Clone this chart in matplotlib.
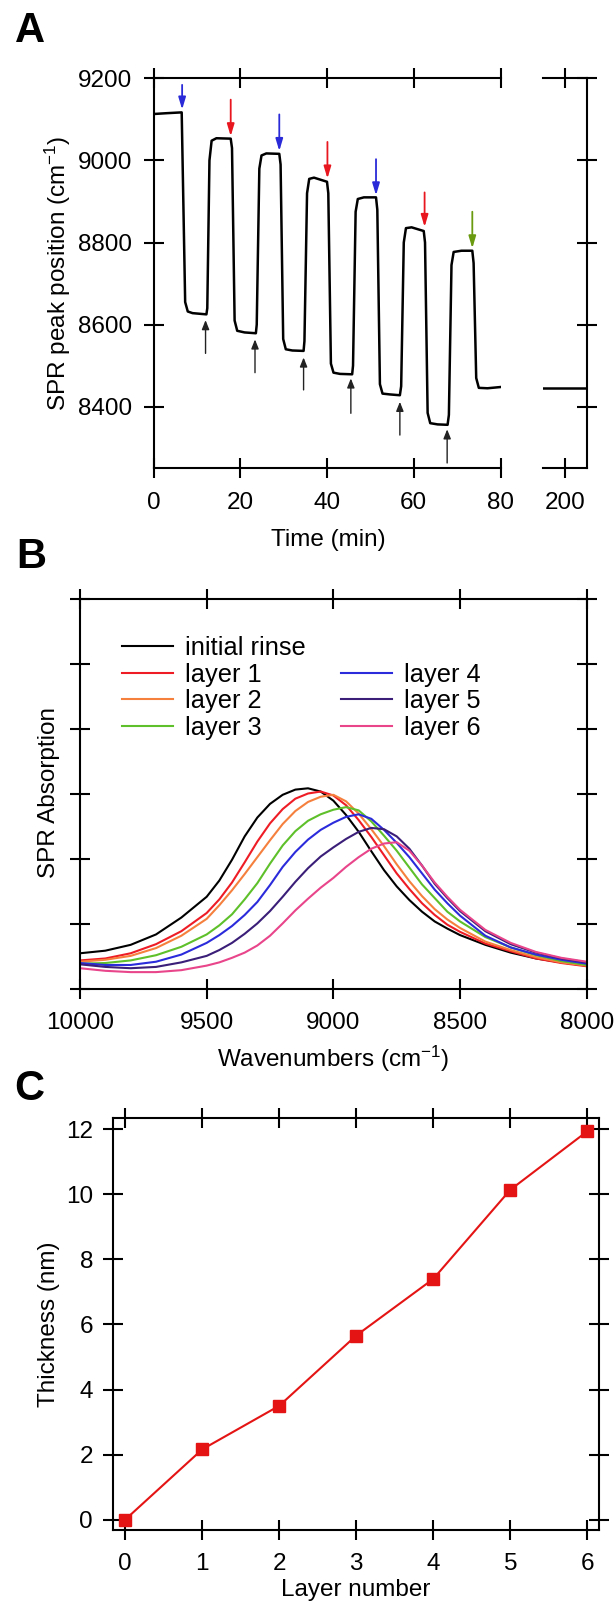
import matplotlib
matplotlib.use('Agg')
import matplotlib.pyplot as plt
from matplotlib.lines import Line2D

plt.rcParams['font.family'] = ['Liberation Sans', 'DejaVu Sans']
plt.rcParams['mathtext.fontset'] = 'custom'
plt.rcParams['mathtext.rm'] = 'Liberation Sans'
plt.rcParams['mathtext.it'] = 'Liberation Sans:italic'
plt.rcParams['mathtext.bf'] = 'Liberation Sans:bold'

# ---------------- data: panel A ----------------
time_min = [0, 3, 6.5, 7.3, 7.9, 9, 12.2,
            12.4, 12.9, 13.4, 14.5, 17.8,
            18.1, 18.7, 19.3, 21, 23.6,
            23.8, 24.4, 24.9, 26, 29.0,
            29.3, 29.9, 30.5, 32, 34.6,
            34.8, 35.4, 35.9, 37, 40.0,
            40.3, 40.9, 41.5, 43, 45.8,
            46.0, 46.6, 47.1, 48.5, 51.3,
            51.6, 52.2, 52.8, 54.5, 56.8,
            57.1, 57.7, 58.2, 59.5, 62.3,
            62.6, 63.2, 63.8, 65.5, 67.8,
            68.1, 68.7, 69.2, 71, 73.5,
            73.8, 74.4, 75.0, 77, 80]
peak_pos = [9113, 9115, 9117, 8655, 8632, 8628, 8625,
            8640, 9000, 9048, 9054, 9053,
            9030, 8610, 8585, 8581, 8579,
            8600, 8980, 9012, 9017, 9016,
            8990, 8565, 8540, 8537, 8536,
            8560, 8920, 8955, 8958, 8948,
            8920, 8505, 8483, 8480, 8479,
            8500, 8875, 8906, 8910, 8910,
            8880, 8455, 8432, 8430, 8428,
            8450, 8800, 8835, 8837, 8828,
            8800, 8385, 8360, 8357, 8356,
            8380, 8745, 8777, 8780, 8780,
            8750, 8470, 8446, 8445, 8448]
late_time = [195, 205]
late_pos = [8445, 8445]

down_t = [6.6, 17.8, 29.0, 40.1, 51.3, 62.5, 73.5]
down_tail = [9184, 9148, 9112, 9045, 9003, 8922, 8875]
down_tip = [9124, 9059, 9023, 8956, 8915, 8838, 8786]
down_colors = ['#2a2ad8', '#e8161e', '#2a2ad8', '#e8161e', '#2a2ad8', '#e8161e', '#6a9a10']

up_t = [12.0, 23.4, 34.6, 45.5, 56.8, 67.7]
up_tail = [8530, 8483, 8441, 8384, 8331, 8263]
up_tip = [8611, 8564, 8520, 8469, 8412, 8345]

# ---------------- data: panel B ----------------
wavenumber = [10000, 9900, 9800, 9700, 9600, 9500, 9450, 9400, 9350, 9300, 9250,
              9200, 9150, 9100, 9050, 9000, 8950, 8900, 8850, 8800, 8750, 8700,
              8650, 8600, 8550, 8500, 8400, 8300, 8200, 8100, 8000]
abs_initial = [0.55, 0.59, 0.68, 0.84, 1.10, 1.42, 1.67, 1.99, 2.35, 2.64, 2.85,
               2.99, 3.07, 3.09, 3.04, 2.90, 2.68, 2.42, 2.12, 1.83, 1.58, 1.37,
               1.19, 1.04, 0.93, 0.83, 0.68, 0.56, 0.47, 0.41, 0.36]
abs_layer1 = [0.44, 0.47, 0.55, 0.69, 0.89, 1.17, 1.38, 1.64, 1.95, 2.27, 2.55,
              2.77, 2.93, 3.01, 3.04, 2.98, 2.83, 2.60, 2.34, 2.06, 1.78, 1.54,
              1.32, 1.14, 0.99, 0.88, 0.70, 0.58, 0.47, 0.40, 0.35]
abs_layer2 = [0.42, 0.45, 0.51, 0.63, 0.82, 1.08, 1.29, 1.52, 1.77, 2.03, 2.29,
              2.54, 2.74, 2.88, 2.96, 2.99, 2.89, 2.70, 2.46, 2.20, 1.92, 1.66,
              1.43, 1.23, 1.07, 0.94, 0.73, 0.60, 0.49, 0.41, 0.36]
abs_layer3 = [0.39, 0.40, 0.44, 0.52, 0.65, 0.84, 0.98, 1.15, 1.38, 1.63, 1.93,
              2.21, 2.43, 2.59, 2.69, 2.76, 2.80, 2.75, 2.58, 2.36, 2.13, 1.87,
              1.61, 1.40, 1.19, 1.04, 0.80, 0.64, 0.52, 0.43, 0.37]
abs_layer4 = [0.40, 0.37, 0.37, 0.42, 0.53, 0.71, 0.83, 0.97, 1.14, 1.34, 1.60,
              1.88, 2.11, 2.30, 2.45, 2.56, 2.65, 2.69, 2.62, 2.45, 2.25, 2.03,
              1.78, 1.53, 1.32, 1.13, 0.82, 0.64, 0.53, 0.45, 0.39]
abs_layer5 = [0.38, 0.34, 0.32, 0.34, 0.41, 0.51, 0.60, 0.71, 0.85, 1.01, 1.20,
              1.42, 1.65, 1.86, 2.04, 2.18, 2.31, 2.42, 2.48, 2.46, 2.35, 2.16,
              1.90, 1.62, 1.40, 1.20, 0.89, 0.69, 0.56, 0.47, 0.41]
abs_layer6 = [0.32, 0.28, 0.26, 0.26, 0.29, 0.36, 0.41, 0.48, 0.56, 0.67, 0.82,
              1.01, 1.21, 1.39, 1.56, 1.71, 1.88, 2.03, 2.16, 2.24, 2.26, 2.13,
              1.90, 1.64, 1.42, 1.22, 0.91, 0.71, 0.57, 0.48, 0.42]
spectra_labels = ['initial rinse', 'layer 1', 'layer 2', 'layer 3', 'layer 4', 'layer 5', 'layer 6']
spectra_colors = ['#000000', '#ee1c25', '#f5803e', '#5ec02a', '#2b2bdc', '#3a1e78', '#e8458b']

# ---------------- data: panel C ----------------
layer_number = [0, 1, 2, 3, 4, 5, 6]
thickness_nm = [0.0, 2.16, 3.50, 5.66, 7.40, 10.14, 11.94]

# ---------------- figure ----------------
W, H = 616, 1604
DPI = 100
fig = plt.figure(figsize=(W / DPI, H / DPI), dpi=DPI)
FS = 17.5
TL = 14.4
LW = 1.5


def rect(x0, y0, x1, y1):
    return [x0 / W, 1 - y1 / H, (x1 - x0) / W, (y1 - y0) / H]


def ftext(x, y, s, **kw):
    fig.text(x / W, 1 - y / H, s, **kw)


def base_style(ax):
    for sp in ax.spines.values():
        sp.set_linewidth(LW)
    ax.tick_params(which='both', direction='inout', length=TL, width=LW,
                   labelsize=FS, colors='k')


# ---- Panel A ----
axA1 = fig.add_axes(rect(153.5, 78.3, 500.5, 467.5))
axA1.plot(time_min, peak_pos, color='k', lw=1.8, solid_joinstyle='round')
axA1.set_xlim(0, 80)
axA1.set_ylim(8252, 9200)
axA1.set_xticks([0, 20, 40, 60, 80])
axA1.set_yticks([8400, 8600, 8800, 9000, 9200])
base_style(axA1)
axA1.spines['right'].set_visible(False)
axA1.tick_params(axis='x', top=True, bottom=True, labeltop=False, pad=10.5)
axA1.tick_params(axis='y', left=True, right=False, pad=8)

for t, a, b, c in zip(down_t, down_tail, down_tip, down_colors):
    axA1.annotate('', xy=(t, b), xytext=(t, a),
                  arrowprops=dict(arrowstyle='-|>,head_length=0.6,head_width=0.18',
                                  color=c, lw=1.3, mutation_scale=12,
                                  shrinkA=0, shrinkB=0))
for t, a, b in zip(up_t, up_tail, up_tip):
    axA1.annotate('', xy=(t, b), xytext=(t, a),
                  arrowprops=dict(arrowstyle='-|>,head_length=0.5,head_width=0.2',
                                  color='#222222', lw=1.0, mutation_scale=11,
                                  shrinkA=0, shrinkB=0))

axA2 = fig.add_axes(rect(543, 78.3, 586.7, 467.5))
axA2.plot(late_time, late_pos, color='k', lw=1.8)
axA2.set_xlim(195, 205)
axA2.set_ylim(8252, 9200)
axA2.set_xticks([200])
axA2.set_yticks([8400, 8600, 8800, 9000, 9200])
base_style(axA2)
axA2.spines['left'].set_visible(False)
axA2.tick_params(axis='x', top=True, bottom=True, labeltop=False, pad=10.5)
axA2.tick_params(axis='y', left=False, right=True, labelleft=False, labelright=False)

ftext(30, 31, 'A', fontsize=30, fontweight='bold', ha='center', va='center')
ftext(58, 273, r'SPR peak position (cm$^{-1}$)', fontsize=FS, rotation=90,
      ha='center', va='center')
ftext(328, 546, 'Time (min)', fontsize=FS, ha='center', va='baseline')

# ---- Panel B ----
axB = fig.add_axes(rect(80, 599.3, 586.7, 989))
handles = []
for y, lab, col in zip([abs_initial, abs_layer1, abs_layer2, abs_layer3,
                        abs_layer4, abs_layer5, abs_layer6],
                       spectra_labels, spectra_colors):
    ln, = axB.plot(wavenumber, y, color=col, lw=1.5, label=lab,
                   solid_joinstyle='round')
    handles.append(ln)
axB.set_xlim(10000, 8000)
axB.set_ylim(0, 6)
axB.set_xticks([10000, 9500, 9000, 8500, 8000])
axB.set_yticks([0, 1, 2, 3, 4, 5, 6])
base_style(axB)
axB.tick_params(axis='x', top=True, bottom=True, labeltop=False, pad=9.5)
axB.tick_params(axis='y', left=True, right=True, labelleft=False, labelright=False)

blank = Line2D([], [], color='none')
leg_handles = handles[:4] + [blank] + handles[4:]
leg_labels = spectra_labels[:4] + [''] + spectra_labels[4:]
axB.legend(leg_handles, leg_labels, ncol=2, loc='upper left',
           bbox_to_anchor=((122 - 80) / 506.7, (989 - 636) / 390),
           frameon=False, fontsize=18.3, handlelength=2.0, handletextpad=0.47,
           columnspacing=1.4, labelspacing=0.1, borderpad=0, borderaxespad=0)

ftext(31, 557, 'B', fontsize=30, fontweight='bold', ha='center', va='center')
ftext(49, 793, 'SPR Absorption', fontsize=FS, rotation=90, ha='center', va='center')
ftext(333, 1067, r'Wavenumbers (cm$^{-1}$)', fontsize=FS, ha='center', va='baseline')

# ---- Panel C ----
axC = fig.add_axes(rect(113.3, 1118.3, 599.2, 1530))
axC.plot(layer_number, thickness_nm, color='#e41414', lw=1.5, marker='s',
         markersize=9, markeredgecolor='#e41414', markerfacecolor='#e41414')
axC.set_xlim(-0.155, 6.155)
axC.set_ylim(-0.32, 12.34)
axC.set_xticks([0, 1, 2, 3, 4, 5, 6])
axC.set_yticks([0, 2, 4, 6, 8, 10, 12])
base_style(axC)
axC.tick_params(axis='x', top=True, bottom=True, labeltop=False, pad=9)
axC.tick_params(axis='y', left=True, right=True, labelright=False, pad=7.4)
for ln in axC.lines:
    ln.set_clip_on(False)

ftext(29.5, 1089, 'C', fontsize=30, fontweight='bold', ha='center', va='center')
ftext(49, 1324, 'Thickness (nm)', fontsize=FS, rotation=90, ha='center', va='center')
ftext(356, 1596, 'Layer number', fontsize=FS, ha='center', va='baseline')

fig.savefig('out.png', dpi=DPI)
